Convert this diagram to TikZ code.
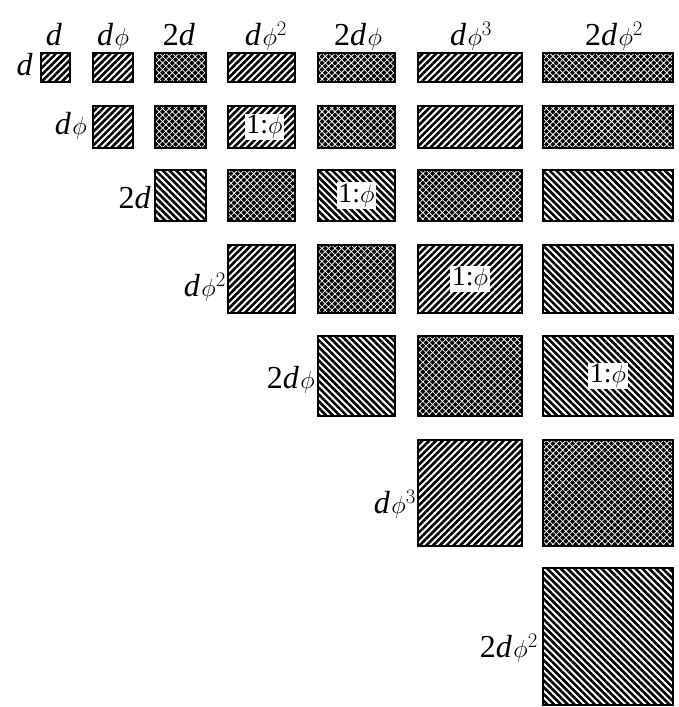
\documentclass[tikz,border=0pt]{standalone}
\usepackage{fontspec}
\setmainfont{Liberation Serif}
\usepackage{tikz}
\usetikzlibrary{patterns.meta}
\tikzset{
  cell/.style={draw=black,line width=1.8pt,anchor=north west,inner sep=0pt,outer sep=0pt},
  nebox/.style={cell,pattern={Lines[angle=45,distance=4.8pt,line width=2.6pt]},pattern color=black},
  nwbox/.style={cell,pattern={Lines[angle=-45,distance=4.8pt,line width=2.6pt]},pattern color=black},
  cxbox/.style={cell,preaction={fill=black},
    preaction={pattern={Hatch[angle=45,distance=4.6pt,line width=0.75pt]},pattern color=white}},
  collab/.style={anchor=base,inner sep=0pt,font=\fontsize{32}{36}\selectfont},
  rowlab/.style={anchor=base east,inner sep=0pt,font=\fontsize{32}{36}\selectfont},
  ratiolab/.style={fill=white,inner sep=1.5pt,font=\fontsize{28}{32}\selectfont},
  w1/.style={minimum width=29pt},  h1/.style={minimum height=29pt},
  w2/.style={minimum width=40pt},  h2/.style={minimum height=42pt},
  w3/.style={minimum width=51pt},  h3/.style={minimum height=51pt},
  w4/.style={minimum width=67pt},  h4/.style={minimum height=68pt},
  w5/.style={minimum width=77pt},  h5/.style={minimum height=80pt},
  w6/.style={minimum width=104pt}, h6/.style={minimum height=106pt},
  w7/.style={minimum width=130pt}, h7/.style={minimum height=137pt},
}
\newcommand{\dd}{\textit{d}\kern1.5pt}

\begin{document}
\begin{tikzpicture}[x=1pt,y=-1pt]
  \useasboundingbox (0,0) rectangle (678,707);
  % column heads
  \node[collab] (c1) at (54,45) {\textit{d}};
  \node[collab] (c2) at (113,45) {\dd$\phi$};
  \node[collab] (c3) at (179,45) {2\textit{d}};
  \node[collab] (c4) at (266,45) {\dd$\phi^{2}$};
  \node[collab] (c5) at (358,45) {2\dd$\phi$};
  \node[collab] (c6) at (471,45) {\dd$\phi^{3}$};
  \node[collab] (c7) at (614,45) {2\dd$\phi^{2}$};
  % row heads
  \node[rowlab] (r1) at (33,75) {\textit{d}};
  \node[rowlab] (r2) at (87,134) {\dd$\phi$};
  \node[rowlab] (r3) at (151,208) {2\textit{d}};
  \node[rowlab] (r4) at (226,296) {\dd$\phi^{2}$};
  \node[rowlab] (r5) at (315,388) {2\dd$\phi$};
  \node[rowlab] (r6) at (416,513) {\dd$\phi^{3}$};
  \node[rowlab] (r7) at (538,657) {2\dd$\phi^{2}$};
  % row 1
  \node[nebox,w1,h1] (b11) at (41,53) {};
  \node[nebox,w2,h1] (b12) at (93,53) {};
  \node[cxbox,w3,h1] (b13) at (155,53) {};
  \node[nebox,w4,h1] (b14) at (228,53) {};
  \node[cxbox,w5,h1] (b15) at (318,53) {};
  \node[nebox,w6,h1] (b16) at (418,53) {};
  \node[cxbox,w7,h1] (b17) at (543,53) {};
  % row 2
  \node[nebox,w2,h2] (b22) at (93,106) {};
  \node[cxbox,w3,h2] (b23) at (155,106) {};
  \node[nebox,w4,h2] (b24) at (228,106) {};
  \node[cxbox,w5,h2] (b25) at (318,106) {};
  \node[nebox,w6,h2] (b26) at (418,106) {};
  \node[cxbox,w7,h2] (b27) at (543,106) {};
  % row 3
  \node[nwbox,w3,h3] (b33) at (155,170) {};
  \node[cxbox,w4,h3] (b34) at (228,170) {};
  \node[nwbox,w5,h3] (b35) at (318,170) {};
  \node[cxbox,w6,h3] (b36) at (418,170) {};
  \node[nwbox,w7,h3] (b37) at (543,170) {};
  % row 4
  \node[nebox,w4,h4] (b44) at (228,245) {};
  \node[cxbox,w5,h4] (b45) at (318,245) {};
  \node[nebox,w6,h4] (b46) at (418,245) {};
  \node[nwbox,w7,h4] (b47) at (543,245) {};
  % row 5
  \node[nwbox,w5,h5] (b55) at (318,336) {};
  \node[cxbox,w6,h5] (b56) at (418,336) {};
  \node[nwbox,w7,h5] (b57) at (543,336) {};
  % row 6
  \node[nebox,w6,h6] (b66) at (418,440) {};
  \node[cxbox,w7,h6] (b67) at (543,440) {};
  % row 7
  \node[nwbox,w7,h7] (b77) at (543,568) {};
  % ratio marks
  \node[ratiolab] (q24) at ([xshift=3pt]b24.center) {1:$\phi$};
  \node[ratiolab] (q35) at (b35.center) {1:$\phi$};
  \node[ratiolab] (q46) at (b46.center) {1:$\phi$};
  \node[ratiolab] (q57) at (b57.center) {1:$\phi$};
\end{tikzpicture}
\end{document}
